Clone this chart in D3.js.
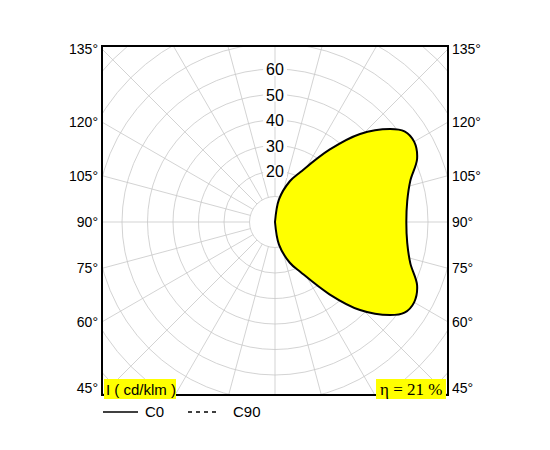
<!DOCTYPE html>
<html><head><meta charset="utf-8">
<script src="https://cdn.jsdelivr.net/npm/d3@7"></script>
<style>body{margin:0;background:#fff}text{font-family:Arial,"Liberation Sans",sans-serif}</style>
</head><body><svg id="chart" width="550" height="450"></svg>
<script>
// C0 plane, angle from nadir (deg) and intensity (cd/klm), upper half is mirrored
var angles = [0, 10, 20, 27, 37, 44, 51, 55, 60, 66, 73, 81, 90];
var c0 = [0, 9, 17, 22, 35.5, 48, 58, 62, 63, 61, 55.5, 52.5, 51.5];
var ringTicks = [20, 30, 40, 50, 60];
var sideTicks = [45, 60, 75, 90, 105, 120, 135];

var svg = d3.select("#chart");
var cx = 275, cy = 222, half = 173;
var r = d3.scaleLinear().domain([0, 10]).range([0, 25.5]);

svg.append("clipPath").attr("id", "box").append("rect")
  .attr("x", cx - half).attr("y", cy - half - 3).attr("width", half * 2).attr("height", half * 2 + 3);
var g = svg.append("g").attr("clip-path", "url(#box)");

// rings
g.selectAll("circle.ring").data(d3.range(10, 110, 10)).enter().append("circle")
  .attr("cx", cx).attr("cy", cy).attr("r", function(d){ return r(d); })
  .attr("fill", "none").attr("stroke", "#c8c8c8").attr("stroke-width", 0.8);
// spokes every 15 deg
g.selectAll("line.spoke").data(d3.range(0, 360, 15)).enter().append("line")
  .attr("x1", function(d){ return cx + r(10) * Math.sin(d * Math.PI / 180); })
  .attr("y1", function(d){ return cy + r(10) * Math.cos(d * Math.PI / 180); })
  .attr("x2", function(d){ return cx + 400 * Math.sin(d * Math.PI / 180); })
  .attr("y2", function(d){ return cy + 400 * Math.cos(d * Math.PI / 180); })
  .attr("stroke", "#c8c8c8").attr("stroke-width", 0.8);

// C0 curve, mirrored about the horizontal axis
var pts = [];
angles.forEach(function(a, i){ pts.push([a, c0[i]]); });
for (var i = angles.length - 2; i >= 0; i--) pts.push([180 - angles[i], c0[i]]);
var line = d3.line()
  .x(function(d){ return cx + r(d[1]) * Math.sin(d[0] * Math.PI / 180); })
  .y(function(d){ return cy + r(d[1]) * Math.cos(d[0] * Math.PI / 180); })
  .curve(d3.curveCatmullRomClosed);
g.append("path").attr("d", line(pts))
  .attr("fill", "#ffff00").attr("stroke", "#000").attr("stroke-width", 2);

// ring labels
ringTicks.forEach(function(v){
  var t = svg.append("text").attr("x", cx).attr("y", cy - r(v) + 6)
    .attr("text-anchor", "middle").attr("font-size", 16).text(v);
  var bb = t.node().getBBox();
  svg.insert("rect", "text").attr("x", bb.x - 3).attr("y", bb.y + 2)
    .attr("width", bb.width + 6).attr("height", bb.height - 4).attr("fill", "#fff");
});

// frame
svg.append("rect").attr("x", cx - half).attr("y", cy - half - 3)
  .attr("width", half * 2).attr("height", half * 2 + 3)
  .attr("fill", "none").attr("stroke", "#000").attr("stroke-width", 2);

// side labels
sideTicks.forEach(function(a){
  var y = cy + half * Math.tan((90 - a) * Math.PI / 180);
  y = Math.max(cy - half, Math.min(y, cy + half - 7));
  svg.append("text").attr("x", cx - half - 4).attr("y", y + 5)
    .attr("text-anchor", "end").attr("font-size", 14).text(a + "°");
  svg.append("text").attr("x", cx + half + 4).attr("y", y + 5)
    .attr("font-size", 14).text(a + "°");
});

// boxes
svg.append("rect").attr("x", 104).attr("y", 379).attr("width", 72).attr("height", 20).attr("fill", "#ffff00");
svg.append("text").attr("x", 106).attr("y", 395).attr("font-size", 15).text("I ( cd/klm )");
svg.append("rect").attr("x", 376).attr("y", 379).attr("width", 70).attr("height", 20).attr("fill", "#ffff00");
svg.append("text").attr("x", 380).attr("y", 395).attr("font-size", 17)
  .style("font-family", "'Liberation Serif',serif").text("η = 21 %");

// legend
svg.append("line").attr("x1", 103).attr("x2", 138).attr("y1", 412).attr("y2", 412).attr("stroke", "#000").attr("stroke-width", 1.5);
svg.append("text").attr("x", 145).attr("y", 417).attr("font-size", 15).text("C0");
svg.append("line").attr("x1", 188).attr("x2", 220).attr("y1", 412).attr("y2", 412).attr("stroke", "#000").attr("stroke-width", 1.5).attr("stroke-dasharray", "4,4");
svg.append("text").attr("x", 233).attr("y", 417).attr("font-size", 15).text("C90");
</script></body></html>
